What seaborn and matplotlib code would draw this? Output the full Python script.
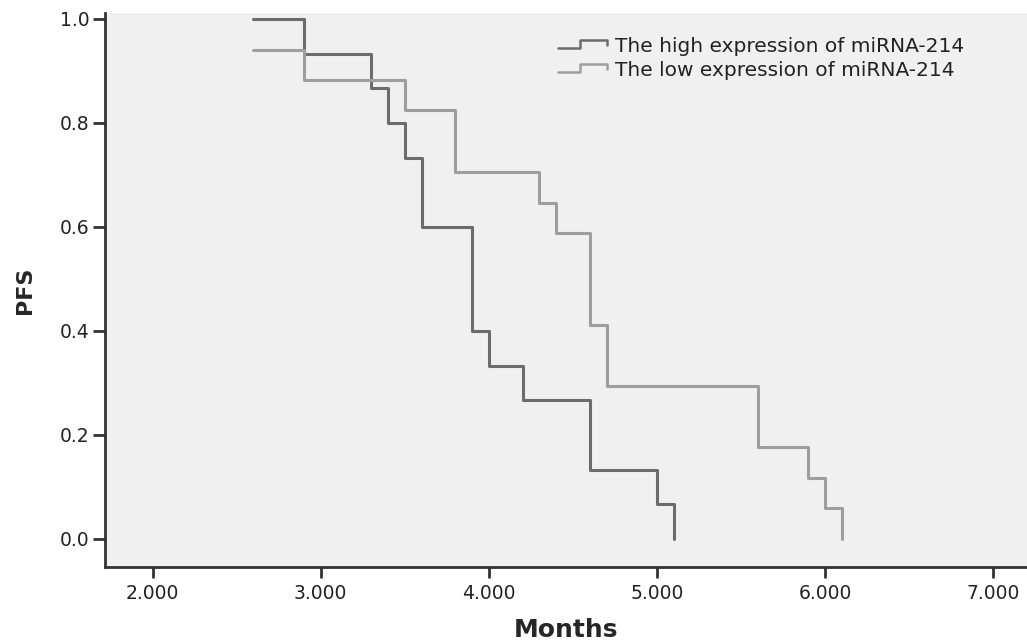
import matplotlib
matplotlib.use("Agg")
import matplotlib.pyplot as plt
import seaborn as sns
import pandas as pd
from matplotlib.lines import Line2D
from matplotlib.legend_handler import HandlerBase

# ---- data ----
high_label = "The high expression of miRNA-214"
low_label = "The low expression of miRNA-214"
high_months = [2.6, 2.9, 3.3, 3.4, 3.5, 3.6, 3.9, 4.0, 4.2, 4.6, 5.0, 5.1]
high_pfs = [1.0, 0.933, 0.867, 0.800, 0.733, 0.600, 0.400, 0.333, 0.267, 0.133, 0.067, 0.0]
low_months = [2.6, 2.9, 3.5, 3.8, 4.3, 4.4, 4.6, 4.7, 5.6, 5.9, 6.0, 6.1]
low_pfs = [0.941, 0.882, 0.824, 0.706, 0.647, 0.588, 0.412, 0.294, 0.176, 0.118, 0.059, 0.0]
x_ticks = [2, 3, 4, 5, 6, 7]
x_tick_labels = ["2.000", "3.000", "4.000", "5.000", "6.000", "7.000"]
y_ticks = [0.0, 0.2, 0.4, 0.6, 0.8, 1.0]
y_tick_labels = ["0.0", "0.2", "0.4", "0.6", "0.8", "1.0"]

df = pd.concat([
    pd.DataFrame({"Months": high_months, "PFS": high_pfs, "group": high_label}),
    pd.DataFrame({"Months": low_months, "PFS": low_pfs, "group": low_label}),
], ignore_index=True)

colors = {high_label: "#6c6c6c", low_label: "#9e9e9e"}

sns.set_style("white")
plt.rcParams["font.family"] = ["DejaVu Sans"]

fig = plt.figure(figsize=(10.27, 6.41), dpi=100)
fig.patch.set_facecolor("white")
ax = fig.add_axes([105 / 1027, 1 - 567 / 641, 1 - 105 / 1027, (567 - 13) / 641])
ax.set_facecolor("#f0f0f0")

sns.lineplot(data=df, x="Months", y="PFS", hue="group", palette=colors,
             estimator=None, sort=False, drawstyle="steps-post",
             linewidth=2.2, legend=False, ax=ax)

ax.set_xlim(1.717, 7.2)
ax.set_ylim(-0.054, 1.0115)
ax.set_xticks(x_ticks)
ax.set_xticklabels(x_tick_labels)
ax.set_yticks(y_ticks)
ax.set_yticklabels(y_tick_labels)

for s in ["top", "right"]:
    ax.spines[s].set_visible(False)
for s in ["left", "bottom"]:
    ax.spines[s].set_color("#333333")
    ax.spines[s].set_linewidth(2.0)

ax.tick_params(axis="both", which="major", direction="out", width=2,
               color="#333333", labelsize=13.5, labelcolor="#222222",
               bottom=True, left=True, top=False, right=False)
ax.tick_params(axis="x", pad=4, length=8)
ax.tick_params(axis="y", pad=2, length=9)

ax.set_xlabel("Months", fontsize=18, fontweight="bold", labelpad=11)
ax.set_ylabel("PFS", fontsize=16, fontweight="bold", labelpad=18)


class StepHandler(HandlerBase):
    def create_artists(self, legend, orig_handle, xdescent, ydescent,
                       width, height, fontsize, trans):
        x0, y0 = -xdescent, -ydescent
        xs = [x0, x0 + 0.45 * width, x0 + 0.45 * width, x0 + width, x0 + width]
        ys = [y0 + 0.25 * height, y0 + 0.25 * height, y0 + 0.8 * height,
              y0 + 0.8 * height, y0 + 0.5 * height]
        ln = Line2D(xs, ys, color=orig_handle.get_color(), linewidth=1.8,
                    transform=trans)
        return [ln]


handles = [Line2D([], [], color=colors[high_label]),
           Line2D([], [], color=colors[low_label])]
leg = ax.legend(handles, [high_label, low_label],
                handler_map={Line2D: StepHandler()},
                loc="upper left", bbox_to_anchor=(0.472, 0.99),
                frameon=False, fontsize=14.5, handlelength=2.4,
                handletextpad=0.4, labelspacing=0.25)
for t in leg.get_texts():
    t.set_color("#222222")

fig.savefig("out.png", dpi=100, facecolor="white")
